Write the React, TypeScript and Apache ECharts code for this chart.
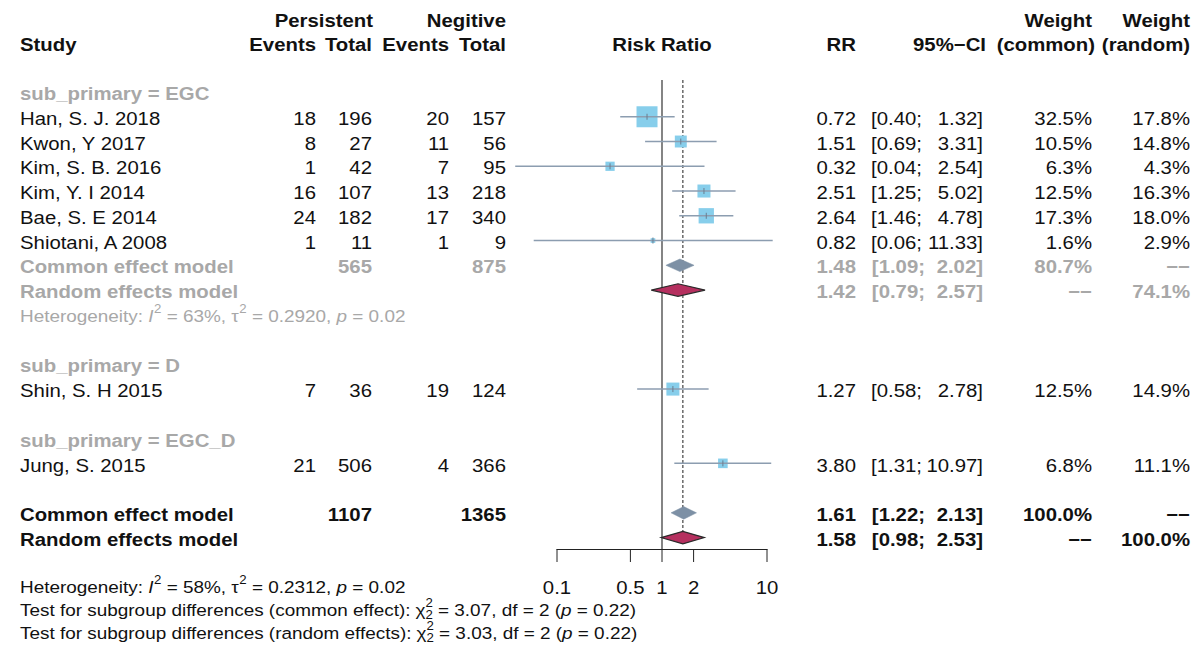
import React, { useEffect, useRef } from "react";
import * as echarts from "echarts";

// ---------------- data ----------------
const studies = ["Han, S. J. 2018", "Kwon, Y 2017", "Kim, S. B. 2016", "Kim, Y. I 2014", "Bae, S. E 2014", "Shiotani, A 2008", "Shin, S. H 2015", "Jung, S. 2015"];
const subgroup = ["EGC", "EGC", "EGC", "EGC", "EGC", "EGC", "D", "EGC_D"];
const subgroupNames = ["EGC", "D", "EGC_D"];
const persEvents = [18, 8, 1, 16, 24, 1, 7, 21];
const persTotal = [196, 27, 42, 107, 182, 11, 36, 506];
const negEvents = [20, 11, 7, 13, 17, 1, 19, 4];
const negTotal = [157, 56, 95, 218, 340, 9, 124, 366];
const rr = [0.72, 1.51, 0.32, 2.51, 2.64, 0.82, 1.27, 3.80];
const ciLow = [0.40, 0.69, 0.04, 1.25, 1.46, 0.06, 0.58, 1.31];
const ciHigh = [1.32, 3.31, 2.54, 5.02, 4.78, 11.33, 2.78, 10.97];
const wCommon = [32.5, 10.5, 6.3, 12.5, 17.3, 1.6, 12.5, 6.8];
const wRandom = [17.8, 14.8, 4.3, 16.3, 18.0, 2.9, 14.9, 11.1];

// subgroup EGC summaries
const sgCommonEst = [1.48, 1.09, 2.02];
const sgRandomEst = [1.42, 0.79, 2.57];
const sgCommonWeight = 80.7;
const sgRandomWeight = 74.1;
const sgTotals = [565, 875];
const sgHet = [63, 0.292, 0.02];

// overall
const overallCommonEst = [1.61, 1.22, 2.13];
const overallRandomEst = [1.58, 0.98, 2.53];
const overallTotals = [1107, 1365];
const overallHet = [58, 0.2312, 0.02];
const testCommon = [3.07, 2, 0.22];
const testRandom = [3.03, 2, 0.22];

const tickValues = [0.1, 0.5, 1, 2, 10];

// ---------------- style ----------------
const FONT = '"Liberation Sans", Arial, Helvetica, sans-serif';
const SX = 1.1;
const FS = 18.5;
const FS_SMALL = 17.2;
const BLACK = "#111111";
const GREY = "#a8a8a8";
const COL = { study: 20, pe: 316, pt: 372, ne: 449, nt: 506, rr: 856, ciL: 922, ciLBold: 925, ciR: 983, wc: 1092, wr: 1190 };
const Y_MIN = -0.485;
const Y_MAX = 18.46;
const SQ = 21 / Math.sqrt(32.5);
const DASH = "\u2212\u2212";

let _ctx: CanvasRenderingContext2D | null = null;
function measure(text: string, size: number, italic = false, bold = false) {
  if (!_ctx) _ctx = document.createElement("canvas").getContext("2d");
  if (!_ctx) return text.length * size * 0.5;
  _ctx.font = `${italic ? "italic " : ""}${bold ? "bold " : ""}${size}px ${FONT}`;
  return _ctx.measureText(text).width;
}

function txt(x: number, y: number, text: string, align: string, color: string, bold = false, size = FS, italic = false): any {
  return {
    type: "text",
    x,
    y,
    scaleX: SX,
    silent: true,
    style: {
      text,
      x: 0,
      y: 0,
      fill: color,
      fontSize: size,
      fontFamily: FONT,
      fontWeight: bold ? "bold" : "normal",
      fontStyle: italic ? "italic" : "normal",
      align,
      verticalAlign: "middle",
    },
  };
}

type Part = [string, string];
function richLine(parts: Part[], x: number, y: number, size: number, color: string): any {
  const children: any[] = [];
  let cx = 0;
  const s = size * 0.7;
  for (const [t, st] of parts) {
    if (st === "n" || st === "i") {
      const e = txt(cx, 0, t, "left", color, false, size, st === "i");
      e.scaleX = 1;
      children.push(e);
      cx += measure(t, size, st === "i");
    } else if (st === "sup") {
      const e = txt(cx + 0.5, -size * 0.4, t, "left", color, false, s);
      e.scaleX = 1;
      children.push(e);
      cx += measure(t, s) + 0.5;
    } else {
      const e1 = txt(cx, -size * 0.4, t, "left", color, false, s);
      const e2 = txt(cx, size * 0.3, t, "left", color, false, s);
      e1.scaleX = 1;
      e2.scaleX = 1;
      children.push(e1, e2);
      cx += measure(t, s);
    }
  }
  return { type: "group", x, y, scaleX: SX, silent: true, children };
}

function hetParts(h: number[]): Part[] {
  return [
    ["Heterogeneity: ", "n"],
    ["I", "i"],
    ["2", "sup"],
    [` = ${h[0]}%, `, "n"],
    ["\u03c4", "n"],
    ["2", "sup"],
    [` = ${h[1].toFixed(4)}, `, "n"],
    ["p", "i"],
    [` = ${h[2].toFixed(2)}`, "n"],
  ];
}
function testParts(label: string, t: number[]): Part[] {
  return [
    [`Test for subgroup differences (${label}): `, "n"],
    ["\u03c7", "n"],
    [String(t[1]), "supsub"],
    [` = ${t[0].toFixed(2)}, df = ${t[1]} (`, "n"],
    ["p", "i"],
    [` = ${t[2].toFixed(2)})`, "n"],
  ];
}

// ---------------- row layout ----------------
type Row = { kind: string; idx?: number; label?: string };
const rows: Row[] = [];
subgroupNames.forEach((g) => {
  rows.push({ kind: "group", label: `sub_primary = ${g}` });
  const members = studies.map((_, i) => i).filter((i) => subgroup[i] === g);
  members.forEach((i) => rows.push({ kind: "study", idx: i }));
  if (members.length > 1) {
    rows.push({ kind: "sgCommon" });
    rows.push({ kind: "sgRandom" });
    rows.push({ kind: "sgHet" });
  }
  rows.push({ kind: "blank" });
});
rows.push({ kind: "ovCommon" });
rows.push({ kind: "ovRandom" });

const rowOf = (k: string) => rows.findIndex((r) => r.kind === k);
const studyRow = (i: number) => rows.findIndex((r) => r.kind === "study" && r.idx === i);

const ci = (lo: number, hi: number) => [`[${lo.toFixed(2)};`, `${hi.toFixed(2)}]`];

function rowTexts(row: Row, y: number): any[] {
  const out: any[] = [];
  if (row.kind === "group") {
    out.push(txt(COL.study, y, row.label || "", "left", GREY, true));
  } else if (row.kind === "study") {
    const i = row.idx as number;
    const [a, b] = ci(ciLow[i], ciHigh[i]);
    out.push(
      txt(COL.study, y, studies[i], "left", BLACK),
      txt(COL.pe, y, String(persEvents[i]), "right", BLACK),
      txt(COL.pt, y, String(persTotal[i]), "right", BLACK),
      txt(COL.ne, y, String(negEvents[i]), "right", BLACK),
      txt(COL.nt, y, String(negTotal[i]), "right", BLACK),
      txt(COL.rr, y, rr[i].toFixed(2), "right", BLACK),
      txt(COL.ciL, y, a, "right", BLACK),
      txt(COL.ciR, y, b, "right", BLACK),
      txt(COL.wc, y, `${wCommon[i].toFixed(1)}%`, "right", BLACK),
      txt(COL.wr, y, `${wRandom[i].toFixed(1)}%`, "right", BLACK)
    );
  } else if (row.kind === "sgCommon" || row.kind === "ovCommon") {
    const sg = row.kind === "sgCommon";
    const c = sg ? GREY : BLACK;
    const est = sg ? sgCommonEst : overallCommonEst;
    const tot = sg ? sgTotals : overallTotals;
    const [a, b] = ci(est[1], est[2]);
    out.push(
      txt(COL.study, y, "Common effect model", "left", c, true),
      txt(COL.pt, y, String(tot[0]), "right", c, true),
      txt(COL.nt, y, String(tot[1]), "right", c, true),
      txt(COL.rr, y, est[0].toFixed(2), "right", c, true),
      txt(COL.ciLBold, y, a, "right", c, true),
      txt(COL.ciR, y, b, "right", c, true),
      txt(COL.wc, y, `${(sg ? sgCommonWeight : 100).toFixed(1)}%`, "right", c, true),
      txt(COL.wr, y, DASH, "right", c, true)
    );
  } else if (row.kind === "sgRandom" || row.kind === "ovRandom") {
    const sg = row.kind === "sgRandom";
    const c = sg ? GREY : BLACK;
    const est = sg ? sgRandomEst : overallRandomEst;
    const [a, b] = ci(est[1], est[2]);
    out.push(
      txt(COL.study, y, "Random effects model", "left", c, true),
      txt(COL.rr, y, est[0].toFixed(2), "right", c, true),
      txt(COL.ciLBold, y, a, "right", c, true),
      txt(COL.ciR, y, b, "right", c, true),
      txt(COL.wc, y, DASH, "right", c, true),
      txt(COL.wr, y, `${(sg ? sgRandomWeight : 100).toFixed(1)}%`, "right", c, true)
    );
  } else if (row.kind === "sgHet") {
    out.push(richLine(hetParts(sgHet), COL.study, y, FS_SMALL, GREY));
  }
  return out;
}

export default function App() {
  const ref = useRef<HTMLDivElement>(null);
  useEffect(() => {
    if (!ref.current) return;
    const chart = echarts.init(ref.current, null, { renderer: "svg" });

    const studyData = studies.map((_, i) => [studyRow(i), rr[i], ciLow[i], ciHigh[i], wCommon[i]]);
    const diamondData = [
      [rowOf("sgCommon"), ...sgCommonEst, 0],
      [rowOf("sgRandom"), ...sgRandomEst, 1],
      [rowOf("ovCommon"), ...overallCommonEst, 0],
      [rowOf("ovRandom"), ...overallRandomEst, 1],
    ];
    const refData = [
      [1, Y_MIN, Y_MAX, 0],
      [overallRandomEst[0], Y_MIN, rowOf("ovRandom"), 1],
    ];
    const textData = rows.map((_, i) => [1, i]);
    const tickData = tickValues.map((v) => [v, Y_MAX]);

    const option: any = {
      animation: false,
      backgroundColor: "#ffffff",
      grid: { left: 557, width: 210, top: 80, height: 469, containLabel: false },
      xAxis: {
        type: "log",
        logBase: 10,
        min: 0.1,
        max: 10,
        axisLine: { show: true, onZero: false, lineStyle: { color: "#222222", width: 1 } },
        axisTick: { show: false },
        axisLabel: { show: false },
        splitLine: { show: false },
      },
      yAxis: {
        type: "value",
        inverse: true,
        min: Y_MIN,
        max: Y_MAX,
        show: false,
        splitLine: { show: false },
      },
      graphic: [
        txt(373, 20, "Persistent", "right", BLACK, true),
        txt(506, 20, "Negitive", "right", BLACK, true),
        txt(1092, 20, "Weight", "right", BLACK, true),
        txt(1190, 20, "Weight", "right", BLACK, true),
        txt(COL.study, 44, "Study", "left", BLACK, true),
        txt(COL.pe, 44, "Events", "right", BLACK, true),
        txt(COL.pt, 44, "Total", "right", BLACK, true),
        txt(COL.ne, 44, "Events", "right", BLACK, true),
        txt(COL.nt, 44, "Total", "right", BLACK, true),
        txt(662, 44, "Risk Ratio", "center", BLACK, true),
        txt(COL.rr, 44, "RR", "right", BLACK, true),
        txt(COL.ciR + 3, 44, "95%\u2212CI", "right", BLACK, true),
        txt(1095, 44, "(common)", "right", BLACK, true),
        txt(1190, 44, "(random)", "right", BLACK, true),
        richLine(hetParts(overallHet), COL.study, 587, FS_SMALL, BLACK),
        richLine(testParts("common effect", testCommon), COL.study, 610, FS_SMALL, BLACK),
        richLine(testParts("random effects", testRandom), COL.study, 633, FS_SMALL, BLACK),
      ],
      series: [
        {
          type: "custom",
          name: "refLines",
          silent: true,
          clip: false,
          encode: { x: 0, y: 1 },
          data: refData,
          renderItem: (params: any, api: any) => {
            const x = api.value(0);
            const a = api.coord([x, api.value(1)]);
            const b = api.coord([x, api.value(2)]);
            const dashed = api.value(3) === 1;
            return {
              type: "line",
              shape: { x1: a[0], y1: a[1], x2: b[0], y2: b[1] },
              style: dashed
                ? { stroke: "#444444", lineWidth: 1.2, lineDash: [3, 2] }
                : { stroke: "#333333", lineWidth: 1.2 },
            };
          },
        },
        {
          type: "custom",
          name: "studies",
          silent: true,
          clip: false,
          encode: { x: 1, y: 0 },
          data: studyData,
          renderItem: (params: any, api: any) => {
            const r = api.value(0);
            const c = api.coord([api.value(1), r]);
            const a = api.coord([api.value(2), r]);
            const b = api.coord([api.value(3), r]);
            const side = SQ * Math.sqrt(api.value(4));
            return {
              type: "group",
              children: [
                { type: "rect", shape: { x: c[0] - side / 2, y: c[1] - side / 2, width: side, height: side }, style: { fill: "#87ceeb" } },
                { type: "line", shape: { x1: a[0], y1: a[1], x2: b[0], y2: b[1] }, style: { stroke: "#8c9db0", lineWidth: 1.5 } },
                { type: "line", shape: { x1: c[0], y1: c[1] - 3, x2: c[0], y2: c[1] + 3 }, style: { stroke: "#6a7d90", lineWidth: 1 } },
              ],
            };
          },
        },
        {
          type: "custom",
          name: "diamonds",
          silent: true,
          clip: false,
          encode: { x: 1, y: 0 },
          data: diamondData,
          renderItem: (params: any, api: any) => {
            const r = api.value(0);
            const c = api.coord([api.value(1), r]);
            const a = api.coord([api.value(2), r]);
            const b = api.coord([api.value(3), r]);
            const random = api.value(4) === 1;
            const h = 6.3;
            return {
              type: "polygon",
              shape: { points: [[a[0], a[1]], [c[0], c[1] - h], [b[0], b[1]], [c[0], c[1] + h]] },
              style: random
                ? { fill: "#b5305f", stroke: "#2a2a2a", lineWidth: 1.2 }
                : { fill: "#7d90a5", stroke: "#7d90a5", lineWidth: 0.5 },
            };
          },
        },
        {
          type: "custom",
          name: "ticks",
          silent: true,
          clip: false,
          encode: { x: 0, y: 1 },
          data: tickData,
          renderItem: (params: any, api: any) => {
            const v = api.value(0);
            const p = api.coord([v, api.value(1)]);
            return {
              type: "group",
              children: [
                { type: "line", shape: { x1: p[0], y1: p[1], x2: p[0], y2: p[1] + 13 }, style: { stroke: "#222222", lineWidth: 1 } },
                txt(p[0], p[1] + 38, String(v), "center", BLACK, false, FS),
              ],
            };
          },
        },
        {
          type: "custom",
          name: "table",
          silent: true,
          clip: false,
          encode: { x: 0, y: 1 },
          data: textData,
          renderItem: (params: any, api: any) => {
            const row = rows[params.dataIndex];
            const y = api.coord([1, api.value(1)])[1] + 1.5;
            return { type: "group", children: rowTexts(row, y) };
          },
        },
      ],
    };
    chart.setOption(option);
    return () => chart.dispose();
  }, []);
  return (
    <div
      ref={ref}
      style={{ position: "absolute", left: 0, top: 0, width: 1196, height: 651, background: "#ffffff" }}
    />
  );
}
